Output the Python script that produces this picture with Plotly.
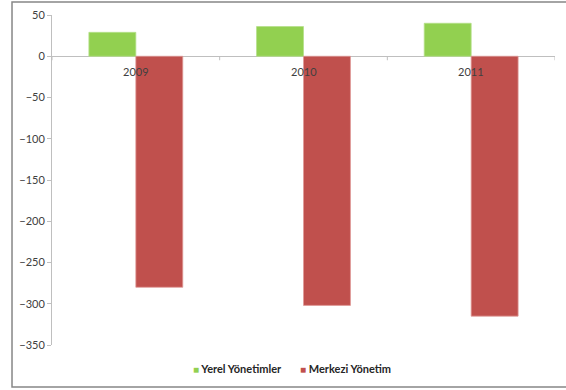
import plotly.graph_objects as go

years = ["2009", "2010", "2011"]
yerel = [29, 36, 40]
merkezi = [-280, -302, -315]
y_ticks = [50, 0, -50, -100, -150, -200, -250, -300, -350]

GREEN = "#92D050"
RED = "#C0504D"
AXIS = "#BFBFBF"
FONT = "Lato, 'Open Sans', sans-serif"
LEGEND_FONT = dict(family=FONT, size=11, color="#262626", weight="bold")

series = [
    ("Yerel Yönetimler", yerel, GREEN, "#B5E08A", "legend"),
    ("Merkezi Yönetim", merkezi, RED, "#E09A98", "legend2"),
]

fig = go.Figure()
for name, vals, color, edge, leg in series:
    fig.add_trace(go.Bar(x=years, y=vals, name=name, legendgroup=name,
                         showlegend=False,
                         marker=dict(color=color, line=dict(color=edge, width=0.8))))
    # Legend entry with a small square key written into the label
    fig.add_trace(go.Scatter(
        x=[None], y=[None], mode="markers", legendgroup=name, legend=leg,
        marker=dict(size=0.1, color="rgba(0,0,0,0)"),
        name=f"<span style='color:{color};font-size:10px'>■</span> {name}",
    ))

# Category labels sit just under the zero line (positions by category index)
for i, yr in enumerate(years):
    fig.add_annotation(x=i, y=0, xref="x", yref="y", text=yr, showarrow=False,
                       yanchor="middle", yshift=-15,
                       font=dict(family=FONT, size=11, color="#404040"))

# Tick marks at category boundaries on the zero line
for xb in [-0.5, 0.5, 1.5, 2.5]:
    fig.add_shape(type="line", xref="x", yref="y", x0=xb, x1=xb,
                  ysizemode="pixel", yanchor=0, y0=0, y1=-4,
                  line=dict(color=AXIS, width=1))

# Outer chart frame
fig.add_shape(type="rect", xref="paper", yref="paper",
              x0=-0.0795, x1=1.03, y0=-0.127, y1=1.0394,
              line=dict(color="#878787", width=1.5), layer="below")

fig.update_layout(
    width=566, height=390,
    margin=dict(l=52, r=11, t=15, b=45, autoexpand=False),
    paper_bgcolor="white", plot_bgcolor="white",
    barmode="group", bargap=0.44, bargroupgap=0,
    font=dict(family=FONT, size=11, color="#404040"),
    xaxis=dict(type="category", showticklabels=False, showline=False,
               showgrid=False, zeroline=False, range=[-0.5, 2.5]),
    yaxis=dict(range=[-350, 50], tickvals=y_ticks, showgrid=False,
               showline=True, linecolor=AXIS, linewidth=1,
               ticks="outside", ticklen=4, tickcolor=AXIS,
               zeroline=True, zerolinecolor=AXIS, zerolinewidth=1,
               tickfont=dict(family=FONT, size=11, color="#404040")),
    legend=dict(x=0.2008, xanchor="left", y=-0.073, yanchor="middle",
                font=LEGEND_FONT, itemwidth=30, bgcolor="rgba(0,0,0,0)"),
    legend2=dict(x=0.4135, xanchor="left", y=-0.073, yanchor="middle",
                 font=LEGEND_FONT, itemwidth=30, bgcolor="rgba(0,0,0,0)"),
    showlegend=True,
)

fig.write_html("out.html")
